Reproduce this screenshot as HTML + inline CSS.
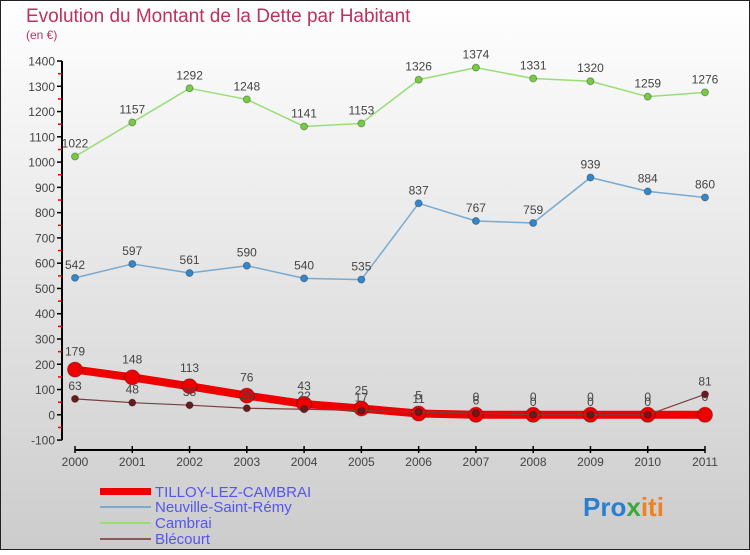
<!DOCTYPE html>
<html><head><meta charset="utf-8">
<style>
html,body{margin:0;padding:0;}
body{width:750px;height:550px;overflow:hidden;font-family:"Liberation Sans",sans-serif;}
svg text{font-family:"Liberation Sans",sans-serif;}
</style></head>
<body>
<svg id="chart" width="750" height="550" xmlns="http://www.w3.org/2000/svg">
<defs>
<linearGradient id="bg" x1="0" y1="0" x2="0" y2="1">
<stop offset="0" stop-color="#ffffff"/><stop offset="1" stop-color="#cccccc"/>
</linearGradient>
</defs>
<rect x="0" y="0" width="750" height="550" fill="url(#bg)"/>
<rect x="0.5" y="0.5" width="749" height="549" fill="none" stroke="#222" stroke-width="1"/>
<text x="26" y="22" font-size="19" fill="#c0305a">Evolution du Montant de la Dette par Habitant</text>
<text x="26" y="39" font-size="12" fill="#c0305a">(en €)</text>
<g id="axes"></g>
<g id="series"></g>
<g id="legend">
<rect x="100" y="488" width="51" height="7" fill="#ee0000"/>
<text x="155" y="497" font-size="15" fill="#5555ee">TILLOY-LEZ-CAMBRAI</text>
<line x1="100" y1="507" x2="151" y2="507" stroke="#7aaad0" stroke-width="2"/>
<text x="155" y="512" font-size="15" fill="#5555ee">Neuville-Saint-Rémy</text>
<line x1="100" y1="523" x2="151" y2="523" stroke="#99dd77" stroke-width="2"/>
<text x="155" y="528" font-size="15" fill="#5555ee">Cambrai</text>
<line x1="100" y1="539" x2="151" y2="539" stroke="#8a5a5a" stroke-width="2"/>
<text x="155" y="544" font-size="15" fill="#5555ee">Blécourt</text>
</g>
<text x="583" y="516" font-size="26" font-weight="bold"><tspan fill="#2a7fd0">Pro</tspan><tspan fill="#3aaa3a">x</tspan><tspan fill="#f08020">iti</tspan></text>
</svg>
<script>
const years=[2000,2001,2002,2003,2004,2005,2006,2007,2008,2009,2010,2011];
const yTicks=[-100,0,100,200,300,400,500,600,700,800,900,1000,1100,1200,1300,1400];
const cambrai=[1022,1157,1292,1248,1141,1153,1326,1374,1331,1320,1259,1276];
const neuville=[542,597,561,590,540,535,837,767,759,939,884,860];
const blecourt=[63,48,38,26,22,17,11,6,0,0,0,81];
const tilloy=[179,148,113,76,43,25,5,0,0,0,0,0];

const NS="http://www.w3.org/2000/svg";
function xs(i){return 75+i*(705-75)/(years.length-1);}
function ys(v){return 414.8-v*0.2527;}
function mk(tag,attrs,parent){const e=document.createElementNS(NS,tag);for(const k in attrs)e.setAttribute(k,attrs[k]);parent.appendChild(e);return e;}
const axes=document.getElementById('axes');
const ser=document.getElementById('series');

let yl=mk('line',{x1:62,y1:ys(1400),x2:62,y2:ys(-100),stroke:'#000','stroke-width':2},axes);


yTicks.forEach(t=>{
  const y=ys(t);
  let tk=mk('line',{x1:57,y1:y,x2:62,y2:y,stroke:'#000','stroke-width':1.5},axes);
  
  
  if(t<1400){
    let mt=mk('line',{x1:58,y1:y-12.6,x2:62,y2:y-12.6,stroke:'#e00','stroke-width':1.5},axes);
    
    
  }
  let tx=mk('text',{x:55,y:y+4.5,'text-anchor':'end','font-size':12,fill:'#444'},axes);
  tx.textContent=t;
  
  
});
let xl=mk('line',{x1:75,y1:450,x2:705,y2:450,stroke:'#000','stroke-width':2},axes);


years.forEach((yr,i)=>{
  const x=xs(i);
  let tk=mk('line',{x1:x,y1:446,x2:x,y2:453,stroke:'#000','stroke-width':1.5},axes);
  
  
  let tx=mk('text',{x:x,y:466,'text-anchor':'middle','font-size':12,fill:'#444'},axes);
  tx.textContent=yr;
  
  
});

function drawSeries(name,vals,color,lw,r,pcolor,labelDy){
  const g=mk('g',{},ser);
  
  
  const pts=vals.map((v,i)=>xs(i)+','+ys(v)).join(' ');
  const pl=mk('polyline',{points:pts,fill:'none',stroke:color,'stroke-width':lw,'stroke-linejoin':'round'},g);
  
  
  vals.forEach((v,i)=>{
    const c=mk('circle',{cx:xs(i),cy:ys(v),r:r,fill:pcolor,stroke:'rgba(0,0,0,0.3)','stroke-width':1},g);
    
    
    const t=mk('text',{x:xs(i),y:ys(v)-labelDy,'text-anchor':'middle','font-size':12,fill:'#444'},g);
    t.textContent=v;
    
    
  });
}
drawSeries('cambrai',cambrai,'#99dd77',1.5,3.5,'#77cc44',9);
drawSeries('neuville',neuville,'#7aaad0',1.5,3.5,'#3388cc',9);
drawSeries('tilloy',tilloy,'#ee0000',8,7.5,'#ee0000',14);
drawSeries('blecourt',blecourt,'#7a4040',1.2,3.5,'#6a1a1a',9);
</script>
</body></html>
